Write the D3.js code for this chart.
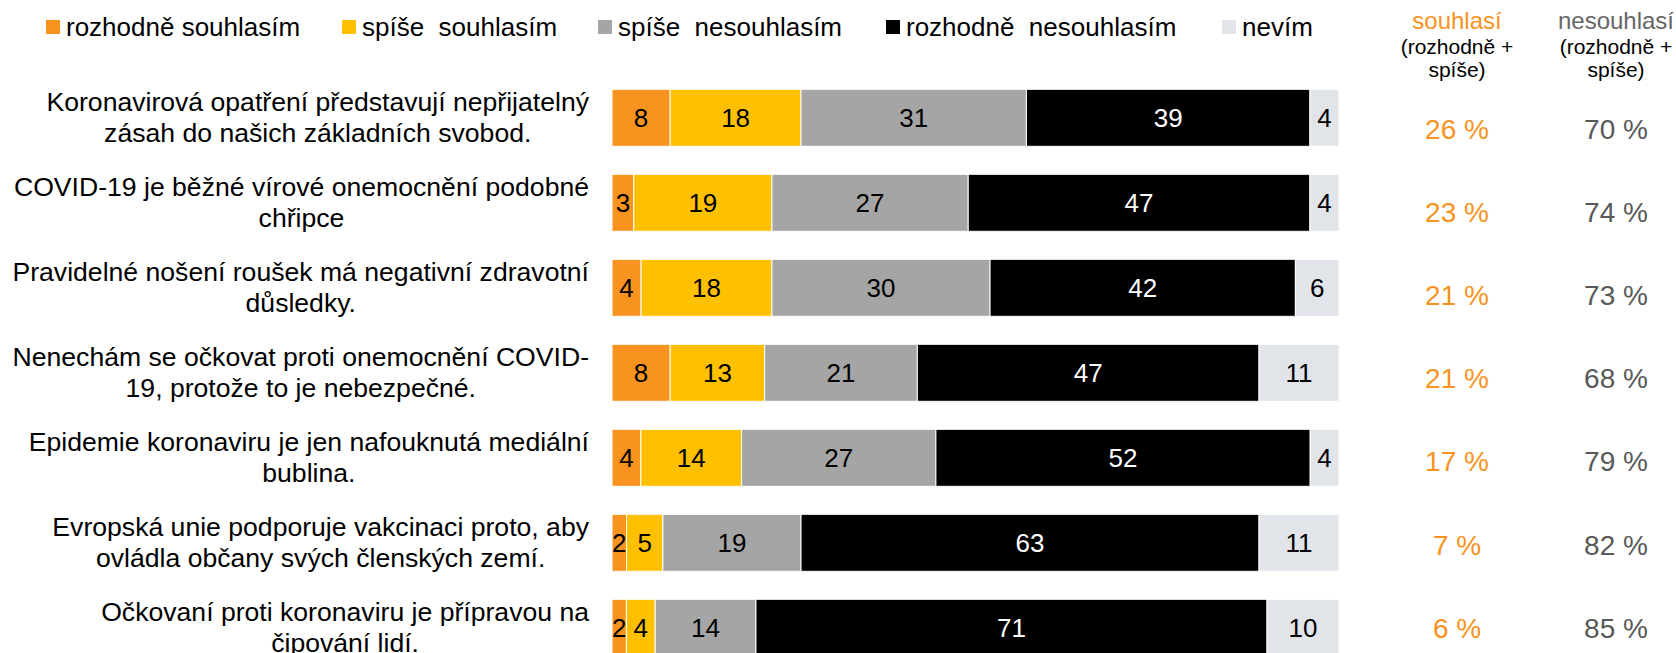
<!DOCTYPE html>
<meta charset="utf-8">
<style>
  body { margin: 0; background: #fff; font-family: "Liberation Sans", Arial, sans-serif; }
  svg { display: block; }
</style>
<body>
<svg width="1676" height="653"></svg>
<script src="https://d3js.org/d3.v7.min.js"></script>
<script>

// statements, two lines each as in the source chart
var statements = [
  ["Koronavirová opatření představují nepřijatelný", "zásah do našich základních svobod."],
  ["COVID-19 je běžné vírové onemocnění podobné", "chřipce"],
  ["Pravidelné nošení roušek má negativní zdravotní", "důsledky."],
  ["Nenechám se očkovat proti onemocnění COVID-", "19, protože to je nebezpečné."],
  ["Epidemie koronaviru je jen nafouknutá mediální", "bublina."],
  ["Evropská unie podporuje vakcinaci proto, aby", "ovládla občany svých členských zemí."],
  ["Očkovaní proti koronaviru je přípravou na", "čipování lidí."]
]

var answerKeys = ["rs", "ss", "sn", "rn", "nv"]
var answerNames = ["rozhodně souhlasím", "spíše  souhlasím", "spíše  nesouhlasím", "rozhodně  nesouhlasím", "nevím"]

var rozhodneSouhlasim   = [8, 3, 4, 8, 4, 2, 2]
var spiseSouhlasim      = [18, 19, 18, 13, 14, 5, 4]
var spiseNesouhlasim    = [31, 27, 30, 21, 27, 19, 14]
var rozhodneNesouhlasim = [39, 47, 42, 47, 52, 63, 71]
var nevim               = [4, 4, 6, 11, 4, 11, 10]

// summary columns (rounded in the source, so kept as given)
var souhlasiPct   = [26, 23, 21, 21, 17, 7, 6]
var nesouhlasiPct = [70, 74, 73, 68, 79, 82, 85]

var colors = ["#F7931E", "#FFC000", "#A5A5A5", "#000000", "#E1E5EA"]
var orange = "#F7931E"
var grayText = "#595959"

var rows = statements.map(function (s, i) {
  return { i: i, rs: rozhodneSouhlasim[i], ss: spiseSouhlasim[i], sn: spiseNesouhlasim[i], rn: rozhodneNesouhlasim[i], nv: nevim[i] }
})

var svg = d3.select('svg')

// x: share of the row, bars are 100 % stacked
var x = d3.scaleLinear().domain([0, 1]).range([612, 1339])
var y = d3.scaleBand()
  .domain(d3.range(statements.length))
  .range([75.3, 670.3])
  .paddingInner(28 / 85)
  .paddingOuter(14 / 85)

// the percentage columns sit in their own text boxes, a bit tighter
var yPct = d3.scalePoint()
  .domain(d3.range(statements.length))
  .range([138.5, 138.5 + 6 * 83.2])

var stack = d3.stack().keys(answerKeys).offset(d3.stackOffsetExpand)
var series = stack(rows)

var color = d3.scaleOrdinal().domain(answerKeys).range(colors)

// bars
var layers = svg.append('g').selectAll('g')
  .data(series)
  .join('g')
  .attr('fill', function (d) { return color(d.key) })

layers.selectAll('rect')
  .data(function (d) { return d })
  .join('rect')
  .attr('x', function (d) { return x(d[0]) })
  .attr('y', function (d) { return y(d.data.i) })
  .attr('width', function (d) { return x(d[1]) - x(d[0]) })
  .attr('height', y.bandwidth())
  .attr('stroke', '#fff')
  .attr('stroke-width', 1)

// numbers inside the bars
layers.each(function (layer) {
  d3.select(this).selectAll('text')
    .data(layer)
    .join('text')
    .attr('x', function (d) { return (x(d[0]) + x(d[1])) / 2 })
    .attr('y', function (d) { return y(d.data.i) + y.bandwidth() / 2 })
    .attr('dy', '0.36em')
    .attr('text-anchor', 'middle')
    .attr('font-size', 26)
    .attr('fill', layer.key === 'rn' ? '#fff' : '#000')
    .text(function (d) { return d.data[layer.key] })
})

// statement labels: block right aligned to the bars, lines centred
var labelRight = 589
var labels = svg.append('g').selectAll('g')
  .data(statements)
  .join('g')

labels.each(function (lines, i) {
  var g = d3.select(this)
  var cy = y(i) + y.bandwidth() / 2
  var t = g.selectAll('text')
    .data(lines)
    .join('text')
    .attr('font-size', 26.6)
    .attr('fill', '#000')
    .attr('text-anchor', 'middle')
    .attr('y', function (d, k) { return cy - 6.5 + k * 31 })
    .text(function (d) { return d })
  var w = 0
  t.each(function () { w = Math.max(w, this.getComputedTextLength()) })
  t.attr('x', labelRight - w / 2)
})

// legend
var legendX = [46, 342, 598, 886, 1222]
var legend = svg.append('g').selectAll('g')
  .data(answerKeys)
  .join('g')
  .attr('transform', function (d, i) { return 'translate(' + legendX[i] + ',0)' })

legend.append('rect')
  .attr('x', 0).attr('y', 20)
  .attr('width', 14).attr('height', 14)
  .attr('fill', function (d) { return color(d) })

legend.append('text')
  .attr('x', 20).attr('y', 36)
  .attr('font-size', 26)
  .attr('fill', '#000')
  .style('white-space', 'pre')
  .text(function (d, i) { return answerNames[i] })

// summary columns
var cols = [
  { cx: 1457, head: 'souhlasí', headColor: orange, values: souhlasiPct, color: orange },
  { cx: 1616, head: 'nesouhlasí', headColor: '#666666', values: nesouhlasiPct, color: grayText }
]

cols.forEach(function (c) {
  var g = svg.append('g').attr('text-anchor', 'middle')
  g.append('text').attr('x', c.cx).attr('y', 29)
    .attr('font-size', 24).attr('fill', c.headColor).text(c.head)
  g.append('text').attr('x', c.cx).attr('y', 54)
    .attr('font-size', 21).attr('fill', '#000').text('(rozhodně +')
  g.append('text').attr('x', c.cx).attr('y', 77)
    .attr('font-size', 21).attr('fill', '#000').text('spíše)')
  g.selectAll('text.pct')
    .data(c.values)
    .join('text')
    .attr('class', 'pct')
    .attr('x', c.cx)
    .attr('y', function (d, i) { return yPct(i) })
    .attr('font-size', 28)
    .attr('fill', c.color)
    .text(function (d) { return d + ' %' })
})

</script>
